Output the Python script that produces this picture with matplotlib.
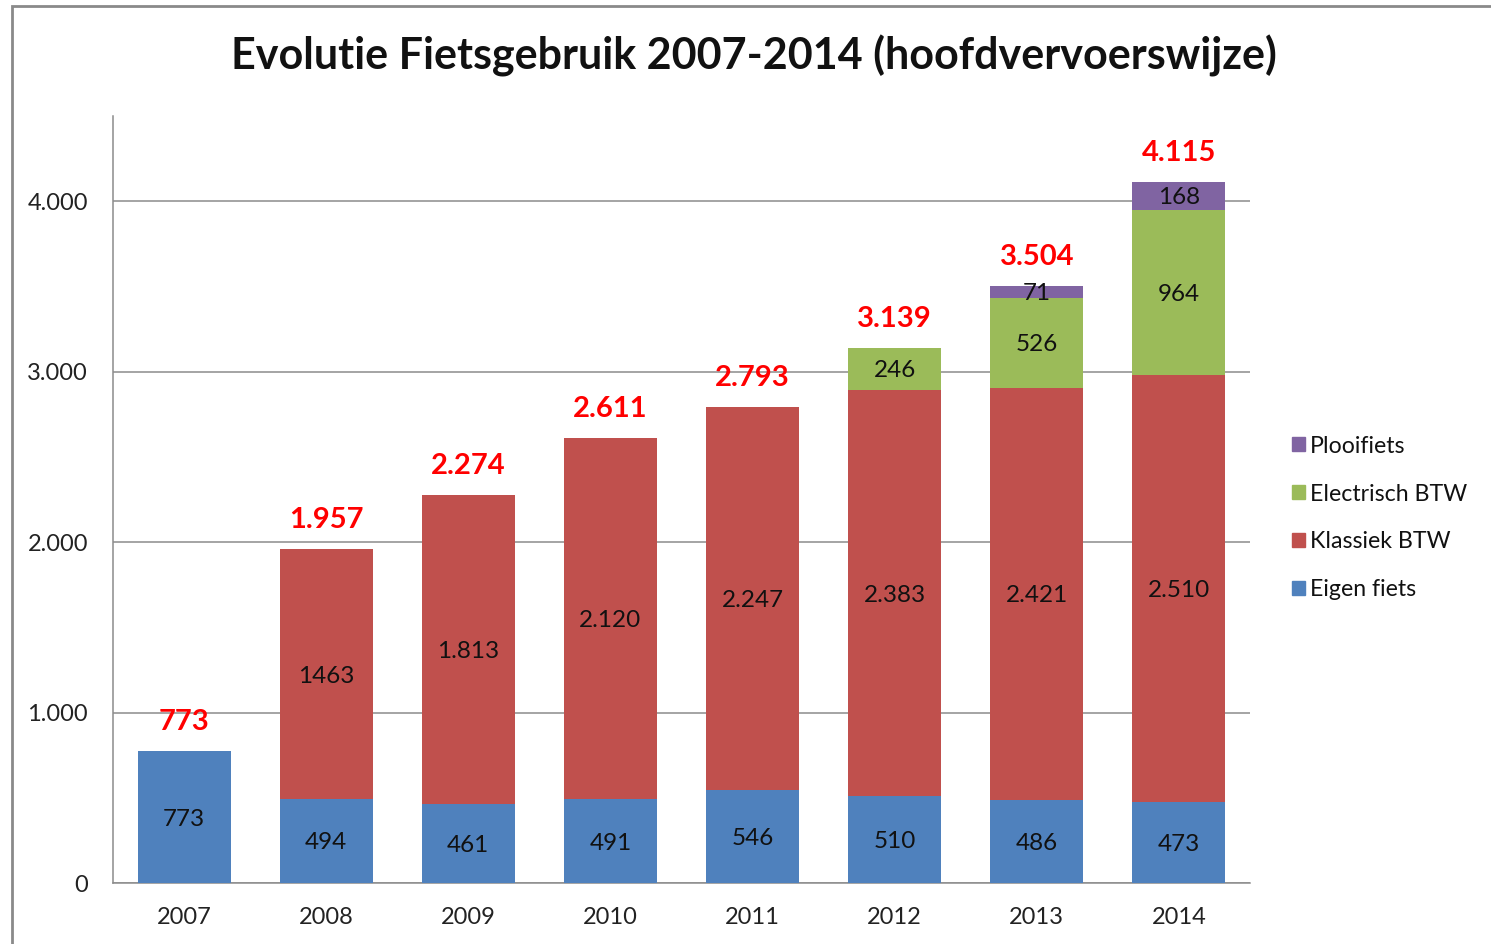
import matplotlib.pyplot as plt
from matplotlib.patches import Rectangle, Patch
import numpy as np

plt.rcParams['font.family'] = ['Lato', 'DejaVu Sans']

jaren = ['2007', '2008', '2009', '2010', '2011', '2012', '2013', '2014']
eigen_fiets = [773, 494, 461, 491, 546, 510, 486, 473]
klassiek_btw = [0, 1463, 1813, 2120, 2247, 2383, 2421, 2510]
electrisch_btw = [0, 0, 0, 0, 0, 246, 526, 964]
plooifiets = [0, 0, 0, 0, 0, 0, 71, 168]

reeksen = [
    ('Eigen fiets', eigen_fiets, '#4F81BD'),
    ('Klassiek BTW', klassiek_btw, '#C0504D'),
    ('Electrisch BTW', electrisch_btw, '#9BBB59'),
    ('Plooifiets', plooifiets, '#8064A2'),
]
# in de bron staat 1463 zonder scheidingsteken
zonder_punt = {('Klassiek BTW', 1)}


def fmt(v):
    return f"{v:,}".replace(',', '.')


fig = plt.figure(figsize=(14.91, 9.44), dpi=100)
ax = fig.add_axes([113/1491, 1-883/944, (1250-113)/1491, (883-116)/944])

x = np.arange(len(jaren))
onder = np.zeros(len(jaren))
handles = []
for naam, vals, kleur in reeksen:
    vals = np.array(vals, dtype=float)
    ax.bar(x, vals, 0.655, bottom=onder, color=kleur, zorder=3)
    for i, v in enumerate(vals):
        if v > 0:
            tekst = str(int(v)) if (naam, i) in zonder_punt else fmt(int(v))
            ax.text(x[i], onder[i] + v/2 - 12, tekst, ha='center', va='center',
                    fontsize=17.5, color='#111111', zorder=4)
    onder += vals
    handles.append(Patch(color=kleur, label=naam))

for i, t in enumerate(onder):
    ax.text(x[i], t + 170, fmt(int(t)), ha='center', va='center',
            fontsize=21, fontweight='bold', color='#FF0000', zorder=4)

ax.set_xlim(-0.5, len(jaren) - 0.5)
ax.set_ylim(0, 4500)
ax.set_yticks([0, 1000, 2000, 3000, 4000])
ax.set_yticklabels([fmt(v) for v in [0, 1000, 2000, 3000, 4000]])
ax.set_xticks(x)
ax.set_xticklabels(jaren)
ax.tick_params(length=0, labelsize=17, colors='#222222')
ax.tick_params(axis='y', pad=18)
ax.tick_params(axis='x', pad=17)
ax.grid(axis='y', color='#8C8C8C', linewidth=1.1, zorder=0)
for s in ['top', 'right']:
    ax.spines[s].set_visible(False)
for s in ['left', 'bottom']:
    ax.spines[s].set_color('#8C8C8C')
    ax.spines[s].set_linewidth(1.1)

fig.text(754/1491, 1-56/944, 'Evolutie Fietsgebruik 2007-2014 (hoofdvervoerswijze)',
         ha='center', va='center', fontsize=31, fontweight='bold', color='#111111')

fig.legend(handles=handles[::-1], loc='center left',
           bbox_to_anchor=(1292/1491, 1-518/944), frameon=False, fontsize=16.7,
           handlelength=0.55, handleheight=0.55, handletextpad=0.22,
           labelspacing=1.16, borderpad=0, borderaxespad=0, labelcolor='#111111')

fig.add_artist(Rectangle((12/1491, -0.1), 1.2, 1.1 - 6/944, transform=fig.transFigure,
                         fill=False, edgecolor='#8A8A8A', linewidth=2, clip_on=False))

fig.savefig('out.png', dpi=100)
